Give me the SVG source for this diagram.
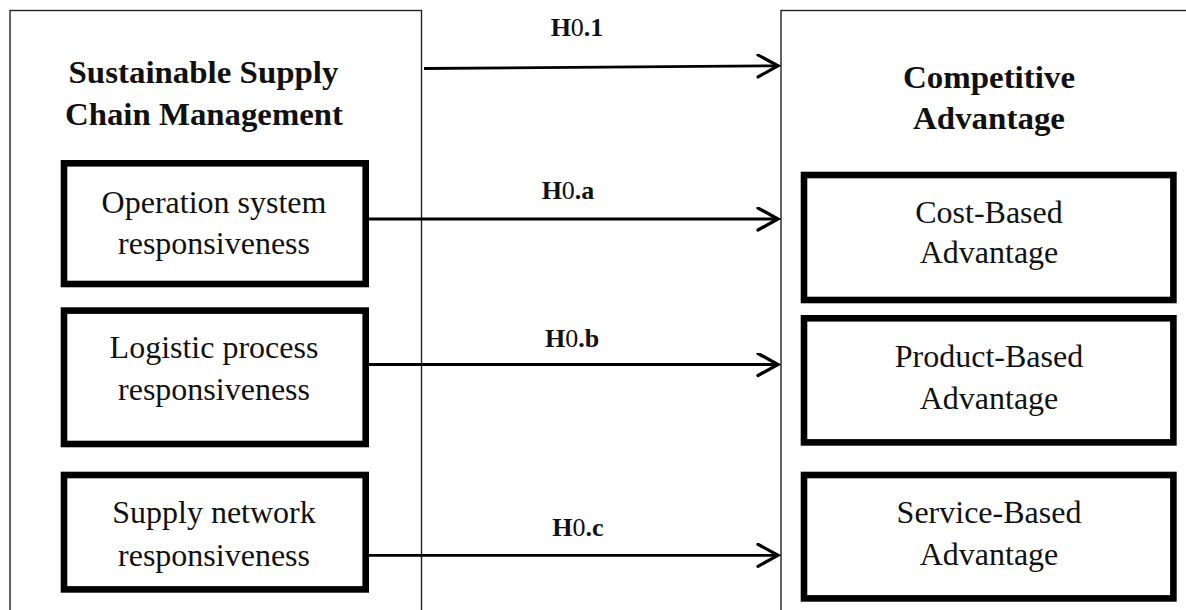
<svg xmlns="http://www.w3.org/2000/svg" width="1186" height="610" viewBox="0 0 1186 610">
<defs>
<style>
.outer{fill:none;stroke:#222;stroke-width:1.4}
.inner{fill:#fff;stroke:#000;stroke-width:6.6}
.t{font-family:"Liberation Serif","Times New Roman",serif;font-size:32px;fill:#111;text-anchor:middle}
.tb{font-family:"Liberation Serif","Times New Roman",serif;font-size:31px;font-weight:bold;fill:#111;text-anchor:middle}
.lb{font-family:"Liberation Serif","Times New Roman",serif;font-size:26px;font-weight:bold;fill:#111;text-anchor:middle}
.conn{fill:none;stroke:#000;stroke-width:2.8}
</style>
<marker id="arr" markerUnits="userSpaceOnUse" markerWidth="30" markerHeight="30" refX="22" refY="12" orient="auto">
<path d="M2,1 L22,12 L2,23" fill="none" stroke="#000" stroke-width="3.2" stroke-linecap="round" stroke-linejoin="miter"/>
</marker>
</defs>
<rect width="1186" height="610" fill="#fff"/>
<g id="scm">
<rect class="outer" x="10" y="10.5" width="411.5" height="640"/>
<text class="tb" x="203.5" y="83" textLength="270" lengthAdjust="spacingAndGlyphs">Sustainable Supply</text>
<text class="tb" x="204" y="125" textLength="278" lengthAdjust="spacingAndGlyphs">Chain Management</text>
</g>
<g id="ca">
<rect class="outer" x="781" y="10.5" width="440" height="640"/>
<text class="tb" x="989" y="88" textLength="172" lengthAdjust="spacingAndGlyphs">Competitive</text>
<text class="tb" x="989" y="129" textLength="152" lengthAdjust="spacingAndGlyphs">Advantage</text>
</g>
<g id="connectors">
<line class="conn" x1="424" y1="68.5" x2="778" y2="65.8" marker-end="url(#arr)"/>
<line class="conn" x1="369" y1="219" x2="778" y2="219" marker-end="url(#arr)"/>
<line class="conn" x1="369" y1="364.5" x2="778" y2="364.5" marker-end="url(#arr)"/>
<line class="conn" x1="369" y1="555.3" x2="778" y2="555.3" marker-end="url(#arr)"/>
<text class="lb" x="577" y="36">H<tspan font-weight="normal">0</tspan>.1</text>
<text class="lb" x="568" y="199">H<tspan font-weight="normal">0</tspan>.a</text>
<text class="lb" x="572" y="347">H<tspan font-weight="normal">0</tspan>.b</text>
<text class="lb" x="578" y="536">H<tspan font-weight="normal">0</tspan>.c</text>
</g>
<g id="osr">
<rect class="inner" x="64" y="163.3" width="301.7" height="120.7"/>
<text class="t" x="214" y="213">Operation system</text>
<text class="t" x="214" y="254">responsiveness</text>
</g>
<g id="lpr">
<rect class="inner" x="64" y="310.6" width="301.7" height="133.4"/>
<text class="t" x="214" y="358">Logistic process</text>
<text class="t" x="214" y="400">responsiveness</text>
</g>
<g id="snr">
<rect class="inner" x="64" y="475" width="301.7" height="114.4"/>
<text class="t" x="214" y="523">Supply network</text>
<text class="t" x="214" y="566">responsiveness</text>
</g>
<g id="cba">
<rect class="inner" x="804" y="175" width="369.4" height="125"/>
<text class="t" x="989" y="222.5">Cost-Based</text>
<text class="t" x="989" y="262.5">Advantage</text>
</g>
<g id="pba">
<rect class="inner" x="804" y="318.3" width="369.4" height="124.1"/>
<text class="t" x="989" y="366.5">Product-Based</text>
<text class="t" x="989" y="409">Advantage</text>
</g>
<g id="sba">
<rect class="inner" x="804" y="475" width="369.4" height="123.4"/>
<text class="t" x="989" y="522.5">Service-Based</text>
<text class="t" x="989" y="565">Advantage</text>
</g>
</svg>
